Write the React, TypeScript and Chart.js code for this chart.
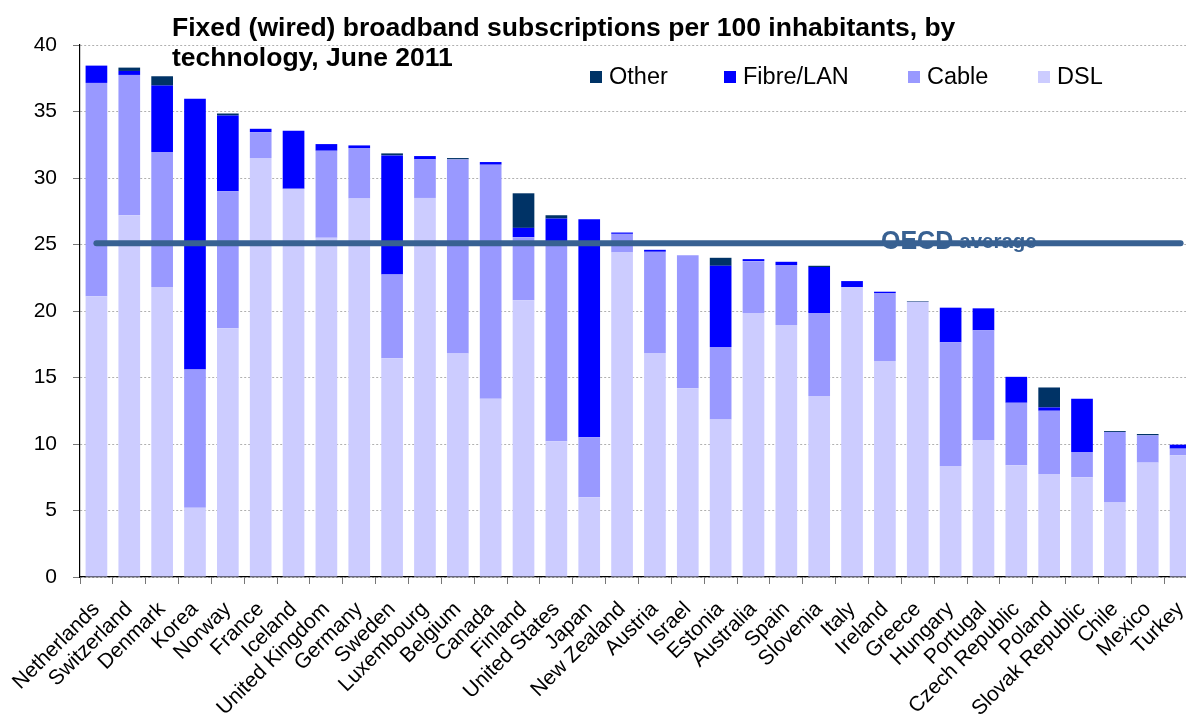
import React, { useEffect, useRef } from "react";
import { Chart, registerables } from "chart.js";

Chart.register(...registerables);

// Subscriptions per 100 inhabitants, June 2011
const countries = [
  "Netherlands", "Switzerland", "Denmark", "Korea", "Norway", "France", "Iceland",
  "United Kingdom", "Germany", "Sweden", "Luxembourg", "Belgium", "Canada", "Finland",
  "United States", "Japan", "New Zealand", "Austria", "Israel", "Estonia", "Australia",
  "Spain", "Slovenia", "Italy", "Ireland", "Greece", "Hungary", "Portugal",
  "Czech Republic", "Poland", "Slovak Republic", "Chile", "Mexico", "Turkey",
];

const dsl = [
  21.1, 27.2, 21.8, 5.2, 18.7, 31.5, 29.2, 25.5, 28.45, 16.45, 28.5, 16.8, 13.4, 20.8,
  10.2, 6.0, 24.4, 16.85, 14.2, 11.85, 19.85, 18.95, 13.6, 21.8, 16.25, 20.7, 8.35, 10.3,
  8.4, 7.75, 7.5, 5.6, 8.6, 9.15,
];

const cable = [
  16.05, 10.55, 10.15, 10.4, 10.3, 1.95, 0, 6.55, 3.8, 6.3, 2.9, 14.6, 17.6, 4.75,
  14.9, 4.5, 1.4, 7.6, 10.0, 5.45, 3.9, 4.5, 6.25, 0, 5.1, 0, 9.3, 8.25,
  4.7, 4.75, 1.9, 5.3, 2.05, 0.5,
];

const fibre = [
  1.3, 0.3, 5.0, 20.35, 5.7, 0.25, 4.35, 0.5, 0.2, 8.95, 0.25, 0, 0.2, 0.7,
  1.85, 16.4, 0.1, 0.15, 0, 6.1, 0.15, 0.25, 3.45, 0.45, 0.1, 0, 2.6, 1.65,
  1.95, 0.25, 4.0, 0, 0, 0.3,
];

const other = [
  0, 0.25, 0.7, 0, 0.15, 0, 0, 0, 0, 0.15, 0, 0.1, 0, 2.6,
  0.25, 0, 0, 0, 0, 0.6, 0, 0, 0.1, 0, 0, 0.05, 0, 0,
  0, 1.5, 0, 0.07, 0.1, 0,
];

const oecdAverage = 25.1;

const yTicks = [0, 5, 10, 15, 20, 25, 30, 35, 40];

const titleLines = [
  "Fixed (wired) broadband subscriptions per 100 inhabitants, by",
  "technology, June 2011",
];

const FONT = '"Liberation Sans", Arial, Helvetica, sans-serif';

const COLORS = {
  dsl: "#CCCCFF",
  cable: "#9999FF",
  fibre: "#0000FF",
  other: "#003366",
  avg: "#386192",
};

// Legend entries, listed top of stack first
const legendItems = [
  { label: "Other", color: COLORS.other, x: 590 },
  { label: "Fibre/LAN", color: COLORS.fibre, x: 724 },
  { label: "Cable", color: COLORS.cable, x: 908 },
  { label: "DSL", color: COLORS.dsl, x: 1038 },
];

const annotations = {
  id: "annotations",
  afterDraw(chart: any) {
    const { ctx, scales } = chart;
    ctx.save();

    // Title
    ctx.fillStyle = "#000";
    ctx.font = `bold 26.5px ${FONT}`;
    ctx.textAlign = "left";
    ctx.textBaseline = "alphabetic";
    ctx.fillText(titleLines[0], 172, 36);
    ctx.fillText(titleLines[1], 172, 66);

    // Legend
    ctx.font = `23.5px ${FONT}`;
    ctx.textBaseline = "middle";
    for (const item of legendItems) {
      ctx.fillStyle = item.color;
      ctx.fillRect(item.x, 71, 12, 12);
      ctx.fillStyle = "#000";
      ctx.fillText(item.label, item.x + 19, 78);
    }

    // OECD average label sitting on the average line
    const yAvg = scales.y.getPixelForValue(oecdAverage);
    ctx.fillStyle = COLORS.avg;
    ctx.textBaseline = "alphabetic";
    ctx.font = `bold 25px ${FONT}`;
    ctx.fillText("OECD", 881, yAvg + 6);
    const w = ctx.measureText("OECD").width;
    ctx.font = `bold 20.5px ${FONT}`;
    ctx.fillText("average", 881 + w + 6, yAvg + 5);

    ctx.restore();
  },
};

export default function App() {
  const canvasRef = useRef<HTMLCanvasElement | null>(null);

  useEffect(() => {
    if (!canvasRef.current) return;
    const chart = new Chart(canvasRef.current, {
      type: "bar",
      data: {
        labels: countries,
        datasets: [
          {
            type: "line",
            label: "OECD average",
            data: countries.map(() => oecdAverage),
            borderColor: COLORS.avg,
            borderWidth: 6,
            borderCapStyle: "round",
            pointRadius: 0,
            fill: false,
            stack: "avg",
            order: 0,
          } as any,
          { label: "DSL", data: dsl, backgroundColor: COLORS.dsl, stack: "tech", order: 1 },
          { label: "Cable", data: cable, backgroundColor: COLORS.cable, stack: "tech", order: 1 },
          { label: "Fibre/LAN", data: fibre, backgroundColor: COLORS.fibre, stack: "tech", order: 1 },
          { label: "Other", data: other, backgroundColor: COLORS.other, stack: "tech", order: 1 },
        ],
      },
      options: {
        animation: false,
        responsive: false,
        devicePixelRatio: 1,
        layout: { padding: { top: 45, left: 0, right: 0, bottom: 0 } },
        datasets: {
          bar: { barPercentage: 0.66, categoryPercentage: 1, borderWidth: 0 },
        },
        plugins: {
          legend: { display: false },
          tooltip: { enabled: false },
          title: { display: false },
        },
        scales: {
          x: {
            stacked: true,
            offset: true,
            grid: {
              display: true,
              offset: true,
              drawOnChartArea: false,
              drawTicks: true,
              tickLength: 7,
              tickColor: "#777",
            },
            border: { display: true, color: "#000", width: 1.2 },
            ticks: {
              autoSkip: false,
              maxRotation: 45,
              minRotation: 45,
              padding: 13,
              color: "#000",
              font: { family: FONT, size: 21 },
            },
            afterFit(scale: any) {
              scale.height = 138;
              scale.paddingLeft = 0;
              scale.paddingRight = 0;
            },
          },
          y: {
            stacked: true,
            min: 0,
            max: 40,
            afterBuildTicks(scale: any) {
              scale.ticks = yTicks.map((v) => ({ value: v }));
            },
            grid: {
              color: "#b0b0b0",
              lineWidth: 1,
              drawTicks: true,
              tickLength: 7,
              tickColor: "#777",
              tickBorderDash: [],
            },
            border: { display: true, color: "#000", width: 1.2, dash: [2, 2] },
            ticks: {
              padding: 16,
              color: "#000",
              font: { family: FONT, size: 21 },
            },
            afterFit(scale: any) {
              scale.width = 80;
            },
          },
        },
      },
      plugins: [annotations],
    });
    return () => chart.destroy();
  }, []);

  return (
    <div
      style={{
        position: "fixed",
        left: 0,
        top: 0,
        width: 1186,
        height: 715,
        overflow: "hidden",
        background: "#fff",
      }}
    >
      <canvas
        ref={canvasRef}
        width={1197}
        height={715}
        style={{ display: "block", width: 1197, height: 715 }}
      />
    </div>
  );
}
